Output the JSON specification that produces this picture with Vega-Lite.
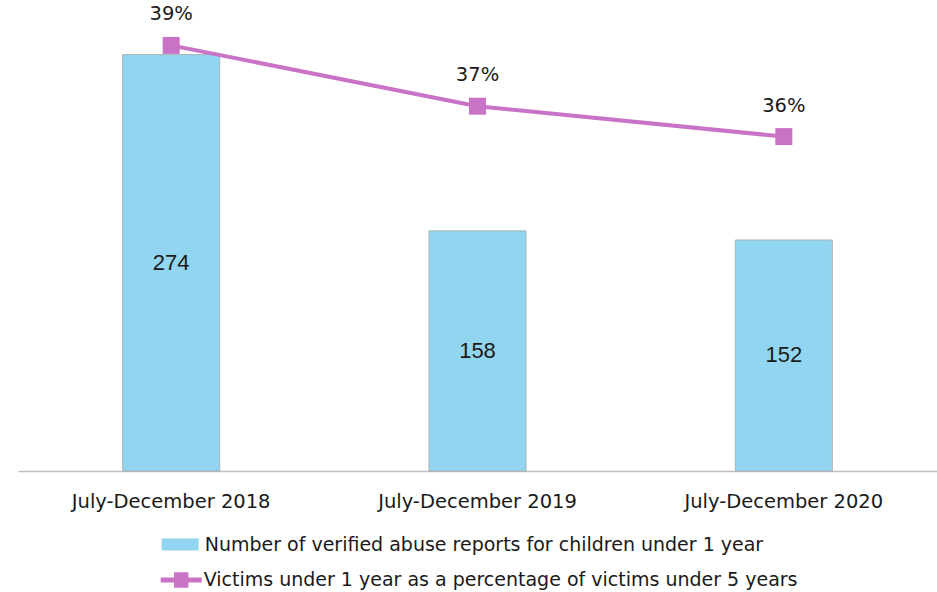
{
  "$schema": "https://vega.github.io/schema/vega-lite/v6.json",
  "width": 919,
  "height": 456,
  "autosize": "none",
  "padding": {"left": 18, "top": 15, "right": 0, "bottom": 121},
  "config": {"view": {"stroke": null}},
  "data": {
    "values": [
      {"period": "July-December 2018", "reports": 274, "pct": 0.39},
      {"period": "July-December 2019", "reports": 158, "pct": 0.37},
      {"period": "July-December 2020", "reports": 152, "pct": 0.36}
    ]
  },
  "encoding": {
    "x": {
      "field": "period",
      "type": "nominal",
      "sort": null,
      "scale": {"paddingInner": 0, "paddingOuter": 0},
      "axis": {
        "title": null,
        "domain": true,
        "domainColor": "#BFBFBF",
        "domainWidth": 1.5,
        "ticks": false,
        "grid": false,
        "labelAngle": 0,
        "labelFont": "DejaVu Sans",
        "labelFontSize": 19.5,
        "labelColor": "#1a1a1a",
        "labelPadding": 21,
        "labelLimit": 400
      }
    }
  },
  "layer": [
    {
      "encoding": {
        "y": {"field": "reports", "type": "quantitative", "scale": {"domain": [0, 300]}, "axis": null}
      },
      "layer": [
        {
          "mark": {"type": "bar", "width": {"band": 0.317}, "stroke": "#A8A8A8", "strokeWidth": 0.8},
          "encoding": {
            "fill": {
              "datum": "Number of verified abuse reports for children under 1 year",
              "type": "nominal",
              "scale": {"range": ["#92D5F0"]},
              "legend": {
                "title": null,
                "orient": "none",
                "legendX": 143.7,
                "legendY": 511,
                "padding": 0,
                "symbolType": "M-1,-0.324H1V0.324H-1Z",
                "symbolSize": 1369,
                "symbolStrokeWidth": 0,
                "labelFont": "DejaVu Sans",
                "labelFontSize": 19,
                "labelColor": "#1a1a1a",
                "labelOffset": 6,
                "labelLimit": 800
              }
            }
          }
        },
        {
          "mark": {"type": "text", "font": "Liberation Sans", "fontSize": 22, "color": "#1a1a1a", "baseline": "middle"},
          "encoding": {
            "y": {"field": "reports", "type": "quantitative", "stack": "zero", "bandPosition": 0.5},
            "text": {"field": "reports", "type": "quantitative"}
          }
        }
      ]
    },
    {
      "encoding": {
        "y": {"field": "pct", "type": "quantitative", "scale": {"domain": [0.25, 0.40]}, "axis": null}
      },
      "layer": [
        {
          "mark": {"type": "line", "strokeWidth": 4},
          "encoding": {
            "stroke": {
              "datum": "Victims under 1 year as a percentage of victims under 5 years",
              "type": "nominal",
              "scale": {"range": ["#C973C6"]},
              "legend": {
                "title": null,
                "orient": "none",
                "legendX": 142.7,
                "legendY": 544.5,
                "padding": 0,
                "symbolType": "M-1,-0.122H1V0.122H-1Z M-0.35,-0.38H0.35V0.38H-0.35Z",
                "symbolSize": 1681,
                "labelFont": "DejaVu Sans",
                "labelFontSize": 19,
                "labelColor": "#1a1a1a",
                "labelOffset": 2,
                "labelLimit": 800,
                "encode": {
                  "symbols": {"update": {"fill": {"value": "#C973C6"}, "strokeWidth": {"value": 0}, "opacity": {"value": 1}}}
                }
              }
            }
          }
        },
        {
          "mark": {"type": "point", "shape": "square", "filled": true, "size": 289, "color": "#C973C6", "opacity": 1}
        },
        {
          "mark": {"type": "text", "font": "DejaVu Sans", "fontSize": 19.5, "color": "#1a1a1a", "baseline": "middle", "dy": -31},
          "encoding": {
            "text": {"field": "pct", "type": "quantitative", "format": ".0%"}
          }
        }
      ]
    }
  ],
  "resolve": {"scale": {"y": "independent"}}
}
